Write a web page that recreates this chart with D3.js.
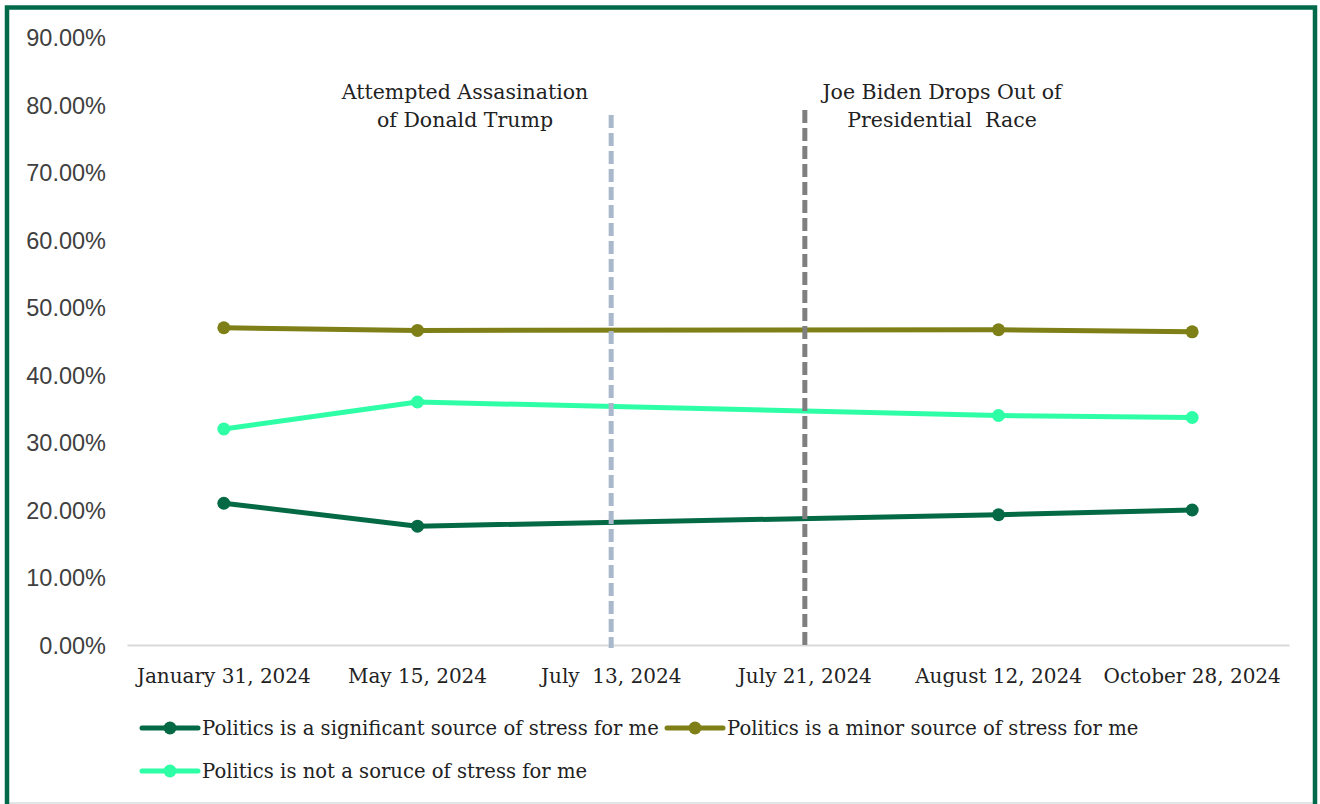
<!DOCTYPE html>
<html>
<head>
<meta charset="utf-8">
<script src="https://cdn.jsdelivr.net/npm/d3@7"></script>
<style>
  html, body { margin: 0; padding: 0; background: #ffffff; }
  svg { display: block; }
</style>
</head>
<body>
<svg id="chart" width="1320" height="804"></svg>
<script>
// ---- Data ----
const categories = ["January 31, 2024", "May 15, 2024", "July  13, 2024", "July 21, 2024", "August 12, 2024", "October 28, 2024"];
const significant = [21.0, 17.6, null, null, 19.3, 20.0];
const minor = [47.0, 46.6, null, null, 46.7, 46.4];
const notStress = [32.0, 36.0, null, null, 34.0, 33.7];
const yTicks = [0, 10, 20, 30, 40, 50, 60, 70, 80, 90];
const seriesNames = [
  "Politics is a significant source of stress for me",
  "Politics is a minor source of stress for me",
  "Politics is not a soruce of stress for me"
];
const seriesColors = ["#046a46", "#7f7f17", "#2effa6"];
const events = [
  { category: "July  13, 2024", lines: ["Attempted Assasination", "of Donald Trump"] },
  { category: "July 21, 2024", lines: ["Joe Biden Drops Out of", "Presidential  Race"] }
];
const eventColors = ["#aab8cc", "#7f7f7f"];

// ---- Layout ----
const svg = d3.select("#chart");
const W = 1320, H = 804;
const plot = { left: 127, right: 1289, top: 37.5, bottom: 645 };
const serif = "'DejaVu Serif', 'Liberation Serif', serif";
const sans = "'Liberation Sans', Arial, sans-serif";

// frame
svg.append("rect").attr("x", 0).attr("y", 0).attr("width", W).attr("height", H).attr("fill", "#fff");
svg.append("line").attr("x1", 9).attr("x2", 1313).attr("y1", 803).attr("y2", 803)
  .attr("stroke", "#d6dcdc").attr("stroke-width", 1.5);
svg.append("rect").attr("x", 7).attr("y", 7.5).attr("width", 1308).attr("height", 820)
  .attr("fill", "none").attr("stroke", "#006a4a").attr("stroke-width", 4.5);

const x = d3.scaleBand().domain(categories).range([plot.left, plot.right]);
const y = d3.scaleLinear().domain([0, 90]).range([plot.bottom, plot.top]);

// y axis labels
const yAxis = d3.axisLeft(y).tickValues(yTicks).tickSize(0).tickPadding(0)
  .tickFormat(d => d.toFixed(2) + "%");
const gy = svg.append("g").attr("transform", "translate(106,0)").call(yAxis);
gy.select(".domain").remove();
gy.selectAll("text").attr("font-family", sans).attr("font-size", 23.5).attr("fill", "#404040").attr("dy", "0.36em");

// x axis
const xAxis = d3.axisBottom(x).tickSize(0).tickPadding(0);
const gx = svg.append("g").attr("transform", `translate(0,${plot.bottom})`).call(xAxis);
gx.select(".domain").attr("stroke", "#d9d9d9").attr("stroke-width", 2);
gx.selectAll("text").attr("font-family", serif).attr("font-size", 20).attr("fill", "#222")
  .attr("y", 38).attr("dy", 0).style("white-space", "pre");

// series lines
const seriesData = [significant, minor, notStress];
const line = d3.line().x(d => x(d.c) + x.bandwidth() / 2).y(d => y(d.v));
seriesData.forEach((vals, i) => {
  const pts = categories.map((c, j) => ({ c, v: vals[j] })).filter(d => d.v !== null);
  svg.append("path").datum(pts).attr("d", line).attr("fill", "none")
    .attr("stroke", seriesColors[i]).attr("stroke-width", 5).attr("stroke-linejoin", "round");
  svg.selectAll(null).data(pts).enter().append("circle")
    .attr("cx", d => x(d.c) + x.bandwidth() / 2).attr("cy", d => y(d.v)).attr("r", 6.5)
    .attr("fill", seriesColors[i]);
});

// event lines and labels
const evTop = [115, 110];
events.forEach((e, i) => {
  const cx = x(e.category) + x.bandwidth() / 2;
  svg.append("line").attr("x1", cx).attr("x2", cx).attr("y1", evTop[i]).attr("y2", plot.bottom + 3)
    .attr("stroke", eventColors[i]).attr("stroke-width", 5).attr("stroke-dasharray", "13,5");
});
const labelCenters = [465, 942];
events.forEach((e, i) => {
  const t = svg.append("text").attr("font-family", serif).attr("font-size", 20.5).attr("fill", "#222")
    .attr("text-anchor", "middle").style("white-space", "pre");
  e.lines.forEach((ln, k) => {
    t.append("tspan").attr("x", labelCenters[i]).attr("y", 99 + k * 28).text(ln);
  });
});

// legend
const legendItems = [
  { name: seriesNames[0], color: seriesColors[0], x: 142, y: 728 },
  { name: seriesNames[1], color: seriesColors[1], x: 667, y: 728 },
  { name: seriesNames[2], color: seriesColors[2], x: 142, y: 771 }
];
legendItems.forEach(it => {
  const g = svg.append("g").attr("transform", `translate(${it.x},${it.y})`);
  g.append("line").attr("x1", 0).attr("x2", 56).attr("y1", 0).attr("y2", 0)
    .attr("stroke", it.color).attr("stroke-width", 5).attr("stroke-linecap", "round");
  g.append("circle").attr("cx", 28).attr("cy", 0).attr("r", 6.5).attr("fill", it.color);
  g.append("text").attr("x", 60).attr("y", 0).attr("dy", "0.35em")
    .attr("font-family", serif).attr("font-size", 19.6).attr("fill", "#222").text(it.name);
});
</script>
</body>
</html>
